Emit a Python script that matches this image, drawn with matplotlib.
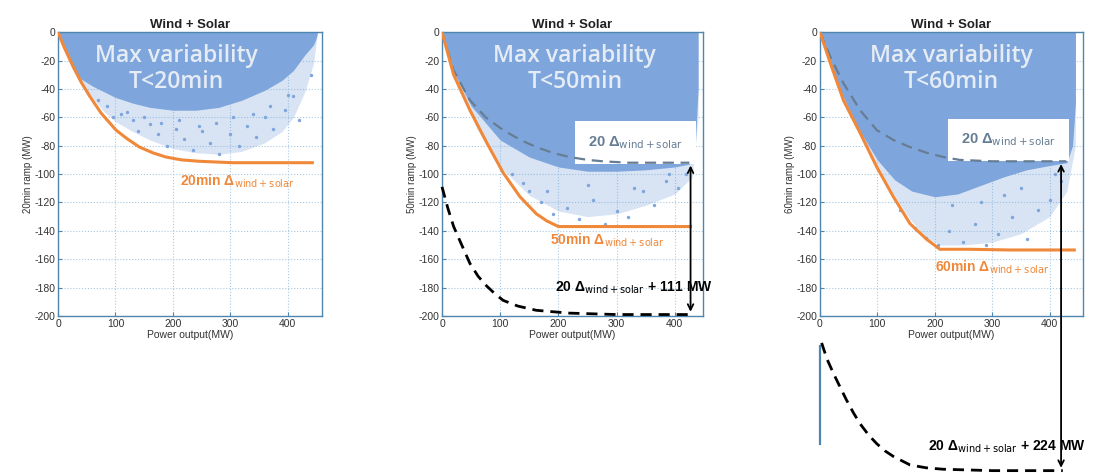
import matplotlib
matplotlib.use("Agg")
import matplotlib.pyplot as plt

plt.rcParams['font.family'] = ['Liberation Sans', 'DejaVu Sans']
plt.rcParams['axes.unicode_minus'] = False

BLUE = '#7ea6dc'
ORANGE = '#f0883a'
SLATE = '#667d93'
SPINE = '#4f86b0'

# ---- panel 1 : 20 min ----
p1_dense_x = [0, 10, 25, 40, 60, 80, 100, 130, 160, 200, 240, 280, 320, 360, 390, 410, 430, 445, 450, 452]
p1_dense_lo = [0, -12, -25, -33, -38, -42, -46, -50, -53, -55, -55, -53, -48, -41, -34, -27, -16, -9, -4, 0]
p1_sparse_x = [0, 10, 25, 40, 60, 80, 100, 130, 160, 200, 240, 280, 320, 360, 390, 410, 430, 445, 452]
p1_sparse_lo = [0, -12, -26, -36, -46, -56, -63, -70, -76, -82, -85, -86, -84, -78, -70, -60, -42, -22, 0]
p1_pts_x = [70, 85, 95, 110, 130, 140, 160, 175, 190, 205, 220, 235, 250, 265, 280, 300, 315, 330, 345,
            360, 375, 395, 410, 420, 440, 120, 150, 180, 210, 245, 275, 305, 340, 370, 400]
p1_pts_y = [-48, -52, -60, -58, -62, -70, -65, -72, -80, -68, -75, -83, -70, -78, -86, -72, -80, -66, -74,
            -60, -68, -55, -45, -62, -30, -56, -60, -64, -62, -66, -64, -60, -58, -52, -44]
p1_env_x = [0, 10, 26, 40, 55, 75, 101, 120, 142, 165, 188, 215, 246, 275, 304, 350, 400, 443]
p1_env_y = [0, -10, -24, -35, -45, -57, -69, -75, -81, -85, -88, -90, -91, -91.5, -92, -92, -92, -92]

# ---- panel 2 : 50 min ----
p2_dense_x = [0, 20, 50, 100, 150, 200, 250, 300, 350, 400, 425, 435, 440]
p2_dense_lo = [0, -28, -52, -76, -88, -95, -98, -98, -97, -95, -93, -80, -40]
p2_sparse_x = [0, 30, 60, 100, 150, 200, 250, 300, 350, 400, 430, 440]
p2_sparse_lo = [0, -40, -68, -95, -115, -126, -130, -128, -122, -114, -102, -60]
p2_pts_x = [150, 170, 190, 215, 235, 260, 280, 300, 320, 345, 365, 385, 405, 420, 120, 140, 180, 250, 330, 390]
p2_pts_y = [-112, -120, -128, -124, -132, -118, -135, -126, -130, -112, -122, -105, -110, -100,
            -100, -106, -112, -108, -110, -100]
p2_gray_x = [0, 20, 48, 75, 105, 135, 162, 190, 219, 250, 276, 320, 380, 425]
p2_gray_y = [0, -27, -48, -60, -69, -76, -81, -85, -88, -90, -91, -92, -92, -92]
p2_env_x = [0, 20, 48, 77, 105, 134, 162, 180, 200, 260, 330, 400, 427]
p2_env_y = [0, -30, -55, -78, -99, -116, -128, -133, -137, -137, -137, -137, -137]
p2_low_x = [0, 10, 20, 35, 48, 62, 77, 90, 105, 130, 162, 190, 219, 300, 380, 425]
p2_low_y = [-109, -124, -137, -151, -163, -172, -179, -184, -189, -193, -196, -197, -198, -199, -199, -199]

# ---- panel 3 : 60 min ----
p3_dense_x = [0, 20, 40, 70, 100, 130, 160, 200, 240, 280, 320, 360, 400, 430, 440, 445]
p3_dense_lo = [0, -25, -45, -70, -90, -104, -112, -116, -114, -108, -102, -97, -94, -92, -80, -50]
p3_sparse_x = [0, 20, 41, 70, 99, 128, 157, 186, 209, 250, 300, 350, 400, 430, 445]
p3_sparse_lo = [0, -24, -47, -70, -93, -114, -132, -145, -150, -150, -148, -142, -130, -112, -80]
p3_pts_x = [140, 165, 185, 205, 225, 250, 270, 290, 310, 335, 360, 380, 400, 420, 230, 280, 320, 350, 410]
p3_pts_y = [-125, -138, -145, -150, -140, -148, -135, -150, -142, -130, -146, -125, -118, -105,
            -122, -120, -115, -110, -100]
p3_gray_x = [0, 20, 41, 70, 99, 128, 157, 186, 215, 243, 300, 360, 429]
p3_gray_y = [0, -19, -36, -55, -69, -76, -81, -85, -88, -90, -91, -91, -91]
p3_env_x = [0, 20, 41, 70, 99, 128, 157, 186, 209, 260, 330, 400, 443]
p3_env_y = [0, -24, -48, -71, -95, -116, -135, -146, -153, -153, -153.5, -153.5, -153.5]
p3_low_x = [3, 12, 23, 35, 46, 58, 70, 85, 99, 113, 128, 157, 185, 214, 300, 380, 423]
p3_low_y = [-219, -230, -240, -250, -259, -268, -276, -284, -290, -295, -299, -305, -307, -308, -309, -309, -309]
p3_stem_y = [-221, -290]

yticks = list(range(0, -201, -20))
xticks = [0, 100, 200, 300, 400]

fig = plt.figure(figsize=(11.05, 4.73), dpi=100)
ax1 = fig.add_axes([0.0525, 0.332, 0.239, 0.600])
ax2 = fig.add_axes([0.400, 0.332, 0.236, 0.600])
ax3 = fig.add_axes([0.742, 0.332, 0.238, 0.600])


def setup(ax, xmax, ylab):
    ax.set_xlim(0, xmax)
    ax.set_ylim(-200, 0)
    ax.set_xticks(xticks)
    ax.set_yticks(yticks)
    ax.tick_params(direction='in', length=3, color=SPINE, labelsize=7.5,
                   labelcolor='#333333', pad=2)
    ax.grid(True, color='#a9c9e2', linestyle=':', linewidth=0.8)
    ax.set_axisbelow(True)
    for s in ax.spines.values():
        s.set_color(SPINE)
        s.set_linewidth(1.0)
    ax.set_title('Wind + Solar', fontsize=9.5, fontweight='bold', pad=3, color='#222222')
    ax.set_xlabel('Power output(MW)', fontsize=7.5, labelpad=1, color='#333333')
    ax.set_ylabel(ylab, fontsize=7, labelpad=1, color='#333333')


def fills(ax, dx, dlo, sx, slo, px, py):
    ax.fill_between(sx, slo, 0, color=BLUE, alpha=0.3, lw=0, zorder=1)
    ax.fill_between(dx, dlo, 0, color=BLUE, lw=0, zorder=1.5)
    ax.scatter(px, py, s=6, color=BLUE, marker='o', lw=0, zorder=1.6)


def maxvar(ax, x, label):
    ax.text(x, -26, 'Max variability\n' + label, ha='center', va='center',
            fontsize=16.5, color='#e6ecf5', family=['Open Sans', 'DejaVu Sans'],
            fontweight='semibold', linespacing=1.1, zorder=3)


def graylabel(ax, x, y):
    ax.text(x, y, '20 Δ$_{\\rm wind+solar}$', color=SLATE, fontsize=10.5,
            fontweight='bold', va='center', zorder=3.5,
            bbox=dict(boxstyle='square,pad=0.9', fc='white', ec='none'))


# panel 1
setup(ax1, 460, '20min ramp (MW)')
fills(ax1, p1_dense_x, p1_dense_lo, p1_sparse_x, p1_sparse_lo, p1_pts_x, p1_pts_y)
ax1.plot(p1_env_x, p1_env_y, color=ORANGE, lw=2.2, zorder=4)
maxvar(ax1, 206, 'T<20min')
ax1.text(212, -105, '20min Δ$_{\\rm wind+solar}$', color=ORANGE, fontsize=10,
         fontweight='bold', va='center', zorder=4)

# panel 2
setup(ax2, 448, '50min ramp (MW)')
fills(ax2, p2_dense_x, p2_dense_lo, p2_sparse_x, p2_sparse_lo, p2_pts_x, p2_pts_y)
ax2.plot(p2_gray_x, p2_gray_y, color=SLATE, lw=1.6, ls=(0, (5, 3)), zorder=4)
ax2.plot(p2_env_x, p2_env_y, color=ORANGE, lw=2.2, zorder=4)
ax2.plot(p2_low_x, p2_low_y, color='black', lw=2.0, ls=(0, (4, 2.5)), zorder=4, clip_on=False)
maxvar(ax2, 228, 'T<50min')
graylabel(ax2, 251, -78)
ax2.text(185, -147, '50min Δ$_{\\rm wind+solar}$', color=ORANGE, fontsize=10,
         fontweight='bold', va='center', zorder=4)
ax2.text(194, -180, '20 Δ$_{\\rm wind+solar}$ + 111 MW', color='black', fontsize=10,
         fontweight='bold', va='center', zorder=5)
ax2.annotate('', xy=(427, p2_gray_y[-1]), xytext=(427, p2_low_y[-1]),
             arrowprops=dict(arrowstyle='<->', color='black', lw=1.3),
             annotation_clip=False, zorder=5)

# panel 3
setup(ax3, 458, '60min ramp (MW)')
fills(ax3, p3_dense_x, p3_dense_lo, p3_sparse_x, p3_sparse_lo, p3_pts_x, p3_pts_y)
ax3.plot(p3_gray_x, p3_gray_y, color=SLATE, lw=1.6, ls=(0, (5, 3)), zorder=4)
ax3.plot(p3_env_x, p3_env_y, color=ORANGE, lw=2.2, zorder=4)
ax3.plot(p3_low_x, p3_low_y, color='black', lw=2.0, ls=(0, (4, 2.5)), zorder=4, clip_on=False)
ax3.plot([0, 0], p3_stem_y, color=SPINE, lw=1.6, clip_on=False)
maxvar(ax3, 229, 'T<60min')
graylabel(ax3, 246, -76)
ax3.text(200, -166, '60min Δ$_{\\rm wind+solar}$', color=ORANGE, fontsize=10,
         fontweight='bold', va='center', zorder=4)
ax3.text(188, -292, '20 Δ$_{\\rm wind+solar}$ + 224 MW', color='black', fontsize=10,
         fontweight='bold', va='center', zorder=5, clip_on=False)
ax3.annotate('', xy=(420, p3_gray_y[-1]), xytext=(420, p3_low_y[-1]),
             arrowprops=dict(arrowstyle='<->', color='black', lw=1.3),
             annotation_clip=False, zorder=5)

fig.savefig('out.png', dpi=100)
